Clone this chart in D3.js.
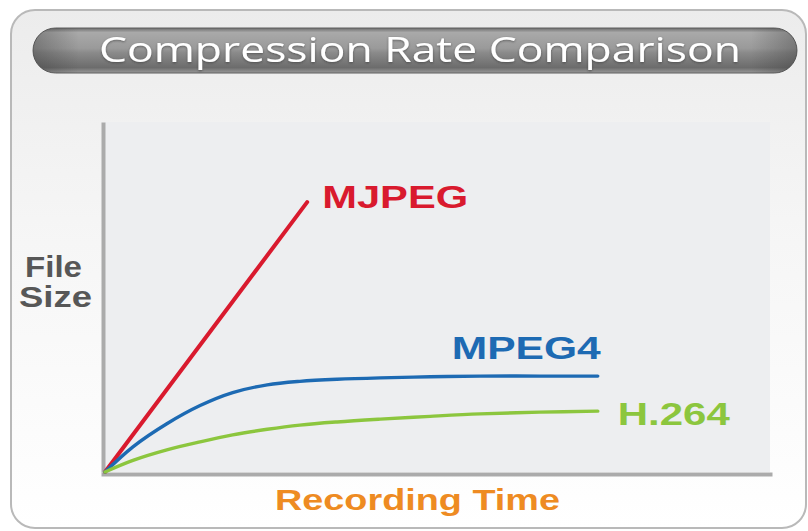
<!DOCTYPE html>
<html>
<head>
<meta charset="utf-8">
<script src="https://cdn.jsdelivr.net/npm/d3@7"></script>
<style>
  html, body { margin: 0; padding: 0; background: #ffffff; }
  svg { display: block; }
</style>
</head>
<body>
<svg id="chart" width="808" height="531"></svg>
<script>
// Relative recording time (x) and relative file size (y), both on a 0–100 scale
const timeMJPEG = [0, 30.4];
const sizeMJPEG = [0, 77.1];

const timeSteps = [0, 4.2, 9.3, 14.3, 19.2, 24.4, 29.3, 34.9, 41.4, 48.9, 56.4, 65.4, 74.1];
const sizeMPEG4 = [0, 7.2, 13.8, 19.0, 22.7, 24.9, 25.9, 26.5, 26.9, 27.2, 27.4, 27.4, 27.4];
const sizeH264  = [0, 3.3, 6.3, 8.6, 10.6, 12.2, 13.4, 14.3, 15.1, 15.9, 16.6, 17.1, 17.4];

const codecNames  = ["MJPEG", "MPEG4", "H.264"];
const codecColors = ["#d91a2e", "#1d6ab3", "#8cc63e"];

const titleText  = "Compression Rate Comparison";
const yAxisLines = ["File", "Size"];
const xAxisLabel = "Recording Time";

const series = [
  { name: codecNames[0], color: codecColors[0], width: 4,   pts: timeMJPEG.map((t, i) => [t, sizeMJPEG[i]]) },
  { name: codecNames[1], color: codecColors[1], width: 3.4, pts: timeSteps.map((t, i) => [t, sizeMPEG4[i]]) },
  { name: codecNames[2], color: codecColors[2], width: 3.4, pts: timeSteps.map((t, i) => [t, sizeH264[i]]) }
];

const svg = d3.select("#chart");
const defs = svg.append("defs");

// Panel background: light grey fading to white
const panelGrad = defs.append("linearGradient").attr("id", "panelGrad")
  .attr("x1", 0).attr("y1", 0).attr("x2", 0).attr("y2", 1);
panelGrad.append("stop").attr("offset", "0%").attr("stop-color", "#ececec");
panelGrad.append("stop").attr("offset", "45%").attr("stop-color", "#f6f6f6");
panelGrad.append("stop").attr("offset", "100%").attr("stop-color", "#ffffff");

// Glossy title pill
const pillGrad = defs.append("linearGradient").attr("id", "pillGrad")
  .attr("x1", 0).attr("y1", 0).attr("x2", 0).attr("y2", 1);
[["0%", "#6e6e6e"], ["10%", "#a9a9a9"], ["45%", "#9a9a9a"], ["55%", "#8a8a8a"], ["88%", "#6c6c6c"], ["100%", "#9a9a9a"]]
  .forEach(([o, c]) => pillGrad.append("stop").attr("offset", o).attr("stop-color", c));

const pillEdge = defs.append("linearGradient").attr("id", "pillEdge")
  .attr("x1", 0).attr("y1", 0).attr("x2", 1).attr("y2", 0);
[["0%", 0.35], ["6%", 0], ["94%", 0], ["100%", 0.35]]
  .forEach(([o, a]) => pillEdge.append("stop").attr("offset", o).attr("stop-color", "#303030").attr("stop-opacity", a));

const shadow = defs.append("filter").attr("id", "txtShadow")
  .attr("x", "-5%").attr("y", "-20%").attr("width", "110%").attr("height", "140%");
shadow.append("feDropShadow").attr("dx", 0).attr("dy", 1).attr("stdDeviation", 0.8)
  .attr("flood-color", "#333").attr("flood-opacity", 0.6);

// Outer panel
svg.append("rect")
  .attr("x", 11).attr("y", 10).attr("width", 795).attr("height", 518)
  .attr("rx", 24).attr("ry", 24)
  .attr("fill", "url(#panelGrad)")
  .attr("stroke", "#b9b9b9").attr("stroke-width", 2);

// Title pill
svg.append("rect")
  .attr("x", 33).attr("y", 28).attr("width", 764).attr("height", 45)
  .attr("rx", 22.5).attr("fill", "url(#pillGrad)")
  .attr("stroke", "#5f5f5f").attr("stroke-width", 1);
svg.append("rect")
  .attr("x", 33).attr("y", 28).attr("width", 764).attr("height", 45)
  .attr("rx", 22.5).attr("fill", "url(#pillEdge)");

svg.append("text")
  .attr("x", 99).attr("y", 62)
  .attr("font-family", "'Open Sans', sans-serif")
  .attr("font-size", 34)
  .attr("fill", "#ffffff")
  .attr("textLength", 642).attr("lengthAdjust", "spacingAndGlyphs")
  .attr("filter", "url(#txtShadow)")
  .text(titleText);

// Scales
const x = d3.scaleLinear().domain([0, 100]).range([105, 770]);
const y = d3.scaleLinear().domain([0, 100]).range([472, 122]);

// Plot background
svg.append("rect")
  .attr("x", x(0)).attr("y", y(100))
  .attr("width", x(100) - x(0)).attr("height", y(0) - y(100))
  .attr("fill", "#edeef0");

// Axes: plain grey rules, no ticks
const axisStyle = g => {
  g.select(".domain").attr("stroke", "#ababab").attr("stroke-width", 4);
  g.selectAll(".tick").remove();
};
svg.append("g")
  .attr("transform", "translate(103,0)")
  .call(d3.axisLeft(y).tickValues([]).tickSizeOuter(0))
  .call(axisStyle);
svg.append("g")
  .attr("transform", "translate(0,474)")
  .call(d3.axisBottom(x.copy().range([101, 772])).tickValues([]).tickSizeOuter(0))
  .call(axisStyle);

// Codec curves
const line = d3.line()
  .x(d => x(d[0])).y(d => y(d[1]))
  .curve(d3.curveCatmullRom.alpha(0.5));

svg.append("g").selectAll("path")
  .data(series)
  .join("path")
  .attr("d", d => line(d.pts))
  .attr("fill", "none")
  .attr("stroke", d => d.color)
  .attr("stroke-width", d => d.width)
  .attr("stroke-linecap", "round");

// Codec labels placed next to each curve's end point
const labelLayout = {
  "MJPEG": { dx: 15,  dy: 6,   anchor: "start", len: 146 },
  "MPEG4": { dx: 3,   dy: -17, anchor: "end",   len: 149 },
  "H.264": { dx: 20,  dy: 14,  anchor: "start", len: 112 }
};
svg.append("g").selectAll("text")
  .data(series)
  .join("text")
  .each(function (d) {
    const end = d.pts[d.pts.length - 1];
    const L = labelLayout[d.name];
    d3.select(this)
      .attr("x", x(end[0]) + L.dx)
      .attr("y", y(end[1]) + L.dy)
      .attr("text-anchor", L.anchor)
      .attr("textLength", L.len)
      .attr("lengthAdjust", "spacingAndGlyphs");
  })
  .attr("font-family", "'Liberation Sans', Arial, sans-serif")
  .attr("font-weight", "bold")
  .attr("font-size", 32)
  .attr("fill", d => d.color)
  .text(d => d.name);

// Axis titles
const yTitle = svg.append("g")
  .attr("font-family", "'Liberation Sans', Arial, sans-serif")
  .attr("font-weight", "bold")
  .attr("font-size", 30)
  .attr("fill", "#575757");
yTitle.append("text").attr("x", 25).attr("y", 277)
  .attr("textLength", 57).attr("lengthAdjust", "spacingAndGlyphs")
  .text(yAxisLines[0]);
yTitle.append("text").attr("x", 19).attr("y", 307)
  .attr("textLength", 73).attr("lengthAdjust", "spacingAndGlyphs")
  .text(yAxisLines[1]);

svg.append("text")
  .attr("x", 275).attr("y", 510)
  .attr("font-family", "'Liberation Sans', Arial, sans-serif")
  .attr("font-weight", "bold")
  .attr("font-size", 30)
  .attr("fill", "#ee8b22")
  .attr("textLength", 285).attr("lengthAdjust", "spacingAndGlyphs")
  .text(xAxisLabel);
</script>
</body>
</html>
